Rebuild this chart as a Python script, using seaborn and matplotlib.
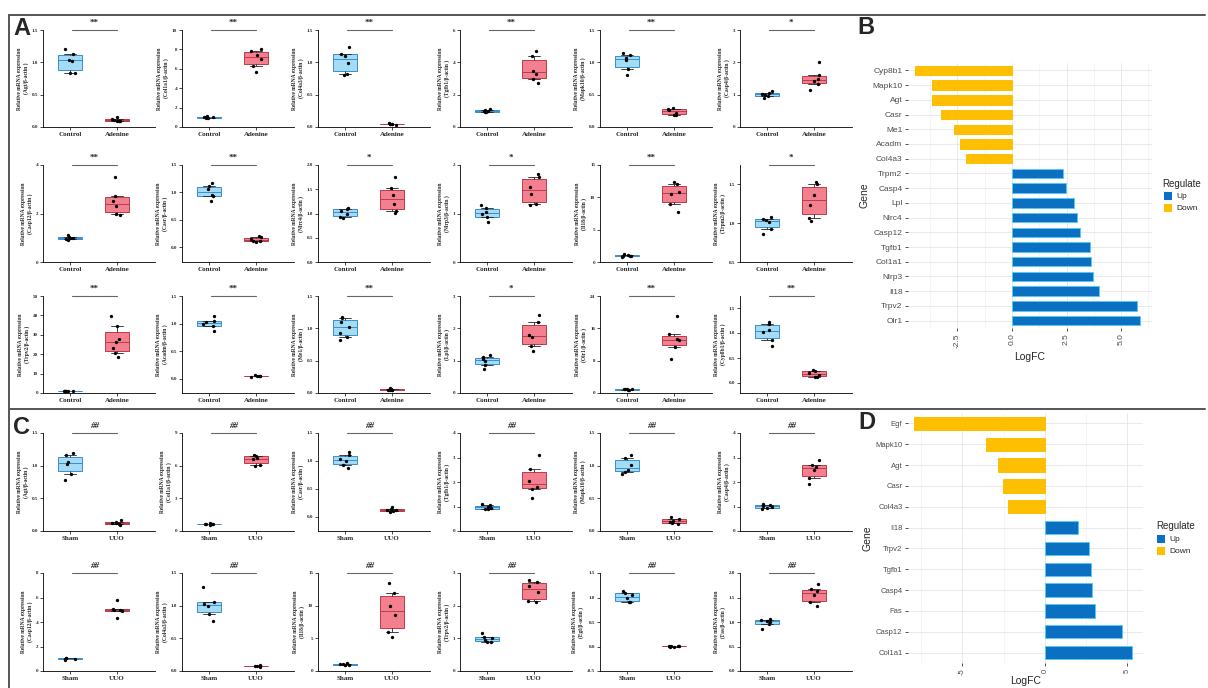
import numpy as np
import pandas as pd
import matplotlib
matplotlib.use("Agg")
import matplotlib.pyplot as plt
import matplotlib.transforms as mtransforms
from matplotlib.lines import Line2D
from matplotlib.ticker import FixedLocator
import seaborn as sns

# ---------------- Panel A: adenine model (Control vs Adenine) ----------------
a_agt_ctrl = [1.20, 1.13, 1.04, 1.02, 0.84, 0.83]
a_agt_aden = [0.15, 0.12, 0.11, 0.10, 0.10, 0.09]
a_col1a1_ctrl = [1.12, 1.06, 1.02, 0.98, 0.95, 0.90]
a_col1a1_aden = [8.00, 7.80, 7.40, 7.00, 6.30, 5.70]
a_col4a3_ctrl = [1.23, 1.13, 1.10, 0.99, 0.82, 0.81]
a_col4a3_aden = [0.06, 0.05, 0.05, 0.04, 0.04, 0.03]
a_tgfb1_ctrl = [1.10, 1.05, 1.00, 0.98, 0.93, 0.90]
a_tgfb1_aden = [4.70, 4.40, 3.45, 3.30, 2.95, 2.70]
a_mapk10_ctrl = [1.14, 1.12, 1.06, 1.03, 0.90, 0.80]
a_mapk10_aden = [0.29, 0.28, 0.26, 0.22, 0.19, 0.19]
a_casp4_ctrl = [1.10, 1.06, 1.03, 1.00, 0.95, 0.90]
a_casp4_aden = [2.02, 1.60, 1.48, 1.42, 1.34, 1.15]

a_casp12_ctrl = [1.10, 1.05, 1.00, 0.98, 0.95, 0.92]
a_casp12_aden = [3.50, 2.72, 2.50, 2.30, 2.00, 1.95]
a_casr_ctrl = [1.17, 1.12, 1.07, 0.96, 0.93, 0.85]
a_casr_aden = [0.20, 0.18, 0.15, 0.12, 0.11, 0.10]
a_nlrc4_ctrl = [1.12, 1.10, 1.05, 1.00, 0.92, 0.90]
a_nlrc4_aden = [1.75, 1.52, 1.38, 1.20, 1.05, 1.02]
a_nlrp3_ctrl = [1.17, 1.12, 1.03, 0.98, 0.92, 0.82]
a_nlrp3_aden = [1.82, 1.76, 1.55, 1.40, 1.19, 1.17]
a_il18_ctrl = [1.20, 1.10, 1.00, 0.95, 0.90, 0.80]
a_il18_aden = [12.3, 12.0, 10.8, 10.5, 8.9, 7.7]
a_trpm2_ctrl = [1.08, 1.06, 1.04, 1.02, 0.92, 0.86]
a_trpm2_aden = [1.53, 1.50, 1.36, 1.24, 1.07, 1.03]

a_trpv2_ctrl = [1.20, 1.10, 1.00, 0.95, 0.90, 0.85]
a_trpv2_aden = [39.5, 34.5, 28.0, 26.5, 23.0, 20.5, 18.5]
a_acadm_ctrl = [1.14, 1.05, 1.03, 1.00, 0.95, 0.87]
a_acadm_aden = [0.06, 0.05, 0.05, 0.04, 0.04, 0.03]
a_me1_ctrl = [1.17, 1.16, 1.10, 1.02, 0.93, 0.87, 0.82]
a_me1_aden = [0.07, 0.06, 0.05, 0.05, 0.04, 0.04]
a_lpl_ctrl = [1.16, 1.10, 1.06, 1.00, 0.88, 0.75]
a_lpl_aden = [2.40, 2.20, 1.78, 1.74, 1.45, 1.30]
a_olr1_ctrl = [1.10, 1.00, 0.95, 0.90, 0.85, 0.80]
a_olr1_aden = [19.0, 14.5, 13.3, 13.0, 11.5, 8.5]
a_cyp8b1_ctrl = [1.22, 1.18, 1.07, 1.03, 0.86, 0.75]
a_cyp8b1_aden = [0.27, 0.24, 0.21, 0.16, 0.13, 0.12]

# ---------------- Panel C: UUO model (Sham vs UUO) ----------------
c_agt_sham = [1.19, 1.16, 1.05, 1.03, 0.88, 0.78]
c_agt_uuo = [0.17, 0.14, 0.13, 0.12, 0.10, 0.09]
c_col1a1_sham = [0.72, 0.68, 0.65, 0.62, 0.60, 0.57]
c_col1a1_uuo = [7.00, 6.90, 6.70, 6.60, 6.10, 6.00]
c_casr_sham = [1.15, 1.10, 1.03, 1.00, 0.93, 0.88]
c_casr_uuo = [0.17, 0.14, 0.12, 0.11, 0.10, 0.09]
c_tgfb1_sham = [1.12, 1.05, 1.00, 0.95, 0.90, 0.88]
c_tgfb1_uuo = [3.10, 2.55, 2.05, 1.78, 1.72, 1.33]
c_mapk10_sham = [1.17, 1.12, 1.01, 0.93, 0.91, 0.88]
c_mapk10_uuo = [0.21, 0.19, 0.16, 0.14, 0.12, 0.11]
c_casp4_sham = [1.10, 1.06, 1.03, 0.98, 0.93, 0.90]
c_casp4_uuo = [2.90, 2.70, 2.62, 2.50, 2.15, 1.90]

c_casp12_sham = [1.10, 1.05, 1.00, 0.98, 0.95, 0.90]
c_casp12_uuo = [5.80, 5.05, 5.00, 4.95, 4.90, 4.30]
c_col4a3_sham = [1.28, 1.06, 1.02, 1.00, 0.88, 0.77]
c_col4a3_uuo = [0.09, 0.08, 0.08, 0.07, 0.07, 0.06]
c_il18_sham = [1.20, 1.10, 1.00, 0.95, 0.90, 0.85]
c_il18_uuo = [13.5, 12.0, 10.0, 8.5, 6.0, 5.2]
c_trpv2_sham = [1.15, 1.05, 1.00, 0.95, 0.90, 0.88]
c_trpv2_uuo = [2.80, 2.72, 2.60, 2.42, 2.15, 2.10]
c_egf_sham = [1.13, 1.10, 1.05, 0.98, 0.91, 0.90]
c_egf_uuo = [0.010, 0.010, 0.005, 0.000, 0.000, 0.005]
c_fas_sham = [1.07, 1.05, 1.03, 1.00, 0.95, 0.85]
c_fas_uuo = [1.78, 1.67, 1.63, 1.55, 1.40, 1.33]

A_GROUPS = ["Control", "Adenine"]
C_GROUPS = ["Sham", "UUO"]

# gene, group 1, group 2, significance mark, y ticks, y limits
A_ROWS = [
    [("Agt", a_agt_ctrl, a_agt_aden, "**", [0, 0.5, 1.0, 1.5], (0, 1.5)),
     ("Col1a1", a_col1a1_ctrl, a_col1a1_aden, "**", [0, 2, 4, 6, 8, 10], (0, 10)),
     ("Col4a3", a_col4a3_ctrl, a_col4a3_aden, "**", [0, 0.5, 1.0, 1.5], (0, 1.5)),
     ("Tgfb1", a_tgfb1_ctrl, a_tgfb1_aden, "**", [0, 2, 4, 6], (0, 6)),
     ("Mapk10", a_mapk10_ctrl, a_mapk10_aden, "**", [0, 0.5, 1.0, 1.5], (0, 1.5)),
     ("Casp4", a_casp4_ctrl, a_casp4_aden, "*", [0, 1, 2, 3], (0, 3))],
    [("Casp12", a_casp12_ctrl, a_casp12_aden, "**", [0, 2, 4], (0, 4)),
     ("Casr", a_casr_ctrl, a_casr_aden, "**", [0, 0.5, 1.0, 1.5], (-0.27, 1.5)),
     ("Nlrc4", a_nlrc4_ctrl, a_nlrc4_aden, "*", [0, 0.5, 1.0, 1.5, 2.0], (0, 2.0)),
     ("Nlrp3", a_nlrp3_ctrl, a_nlrp3_aden, "*", [0, 1, 2], (0, 2)),
     ("Il18", a_il18_ctrl, a_il18_aden, "**", [0, 5, 10, 15], (0, 15)),
     ("Trpm2", a_trpm2_ctrl, a_trpm2_aden, "*", [0.5, 1.0, 1.5], (0.5, 1.75))],
    [("Trpv2", a_trpv2_ctrl, a_trpv2_aden, "**", [0, 10, 20, 30, 40, 50], (0, 50)),
     ("Acadm", a_acadm_ctrl, a_acadm_aden, "**", [0, 0.5, 1.0, 1.5], (-0.26, 1.5)),
     ("Me1", a_me1_ctrl, a_me1_aden, "**", [0, 0.5, 1.0, 1.5], (0, 1.5)),
     ("Lpl", a_lpl_ctrl, a_lpl_aden, "*", [0, 1, 2, 3], (0, 3)),
     ("Olr1", a_olr1_ctrl, a_olr1_aden, "**", [0, 8, 16, 24], (0, 24)),
     ("Cyp8b1", a_cyp8b1_ctrl, a_cyp8b1_aden, "**", [0, 0.5, 1.0, 1.5], (-0.2, 1.74))],
]
C_ROWS = [
    [("Agt", c_agt_sham, c_agt_uuo, "##", [0, 0.5, 1.0, 1.5], (0, 1.5)),
     ("Col1a1", c_col1a1_sham, c_col1a1_uuo, "##", [0, 3, 6, 9], (0, 9)),
     ("Casr", c_casr_sham, c_casr_uuo, "##", [0, 0.5, 1.0, 1.5], (-0.26, 1.5)),
     ("Tgfb1", c_tgfb1_sham, c_tgfb1_uuo, "##", [0, 1, 2, 3, 4], (0, 4)),
     ("Mapk10", c_mapk10_sham, c_mapk10_uuo, "##", [0, 0.5, 1.0, 1.5], (0, 1.5)),
     ("Casp4", c_casp4_sham, c_casp4_uuo, "##", [0, 1, 2, 3, 4], (0, 4))],
    [("Casp12", c_casp12_sham, c_casp12_uuo, "##", [0, 2, 4, 6, 8], (0, 8)),
     ("Col4a3", c_col4a3_sham, c_col4a3_uuo, "##", [0, 0.5, 1.0, 1.5], (0, 1.5)),
     ("Il18", c_il18_sham, c_il18_uuo, "##", [0, 5, 10, 15], (0, 15)),
     ("Trpv2", c_trpv2_sham, c_trpv2_uuo, "##", [0, 1, 2, 3], (0, 3)),
     ("Egf", c_egf_sham, c_egf_uuo, "##", [-0.5, 0, 0.5, 1.0, 1.5], (-0.5, 1.5)),
     ("Fas", c_fas_sham, c_fas_uuo, "##", [0, 0.5, 1.0, 1.5, 2.0], (0, 2.0))],
]

# ---------------- Panels B and D: logFC bar charts ----------------
b_genes = ["Cyp8b1", "Mapk10", "Agt", "Casr", "Me1", "Acadm", "Col4a3",
           "Trpm2", "Casp4", "Lpl", "Nlrc4", "Casp12", "Tgfb1", "Col1a1",
           "Nlrp3", "Il18", "Trpv2", "Olr1"]
b_logfc = [-4.45, -3.68, -3.67, -3.27, -2.66, -2.39, -2.12,
           2.35, 2.48, 2.86, 2.97, 3.12, 3.58, 3.61, 3.73, 3.99, 5.72, 5.87]
b_regulate = ["Down"] * 7 + ["Up"] * 11

d_genes = ["Egf", "Mapk10", "Agt", "Casr", "Col4a3", "Il18", "Trpv2",
           "Tgfb1", "Casp4", "Fas", "Casp12", "Col1a1"]
d_logfc = [-7.94, -3.58, -2.83, -2.53, -2.22, 1.98, 2.69, 2.79, 2.87,
           3.05, 4.69, 5.29]
d_regulate = ["Down"] * 5 + ["Up"] * 7

# ---------------- styling ----------------
CTRL_FILL, CTRL_EDGE = "#a4dcf6", "#3a8fcc"
TREAT_FILL, TREAT_EDGE = "#f4808f", "#b83c4c"
UP_COL, DOWN_COL = "#0b6fc2", "#fdbf00"
SERIF = ["Liberation Serif", "DejaVu Serif"]
SANS = ["Liberation Sans", "DejaVu Sans"]

sns.set_theme(style="white")
plt.rcParams["font.family"] = SERIF
np.random.seed(7)

W, H = 1208, 688
fig = plt.figure(figsize=(W / 100, H / 100), dpi=100)
fig.patch.set_facecolor("white")


def px_axes(left, top, width, height):
    return fig.add_axes([left / W, 1 - (top + height) / H, width / W, height / H])


def tick_text(ticks):
    if all(float(t).is_integer() for t in ticks):
        return [f"{int(t)}" for t in ticks]
    return [f"{t:.1f}" for t in ticks]


def expression_box(ax, gene, g1, g2, groups, sig, ticks, ylim):
    df = pd.DataFrame({
        "group": [groups[0]] * len(g1) + [groups[1]] * len(g2),
        "value": list(g1) + list(g2),
    })
    for lab, fill, edge in [(groups[0], CTRL_FILL, CTRL_EDGE),
                            (groups[1], TREAT_FILL, TREAT_EDGE)]:
        sub = df[df["group"] == lab]
        sns.boxplot(data=sub, x="group", y="value", order=groups, color=fill,
                    linecolor=edge, saturation=1, width=0.5, whis=(5, 95),
                    showfliers=False, linewidth=0.7,
                    whiskerprops={"color": "#222222", "linewidth": 0.6},
                    capprops={"color": "#222222", "linewidth": 0.6},
                    ax=ax)
    sns.stripplot(data=df, x="group", y="value", order=groups, color="black",
                  size=2.4, jitter=0.12, ax=ax, zorder=5)
    ax.set_xlim(-0.57, 1.81)
    ax.set_ylim(*ylim)
    ax.yaxis.set_major_locator(FixedLocator(ticks))
    ax.set_yticklabels(tick_text(ticks), fontsize=3.6, fontweight="bold")
    ax.set_xticks([0, 1])
    ax.set_xticklabels(groups, fontsize=5, fontweight="bold")
    ax.set_xlabel("")
    ax.set_ylabel(f"Relative mRNA expression\n({gene}/β-actin )",
                  fontsize=4, fontweight="bold", labelpad=2, linespacing=1.3)
    for s in ["top", "right"]:
        ax.spines[s].set_visible(False)
    for s in ["left", "bottom"]:
        ax.spines[s].set_color("black")
        ax.spines[s].set_linewidth(0.6)
    ax.tick_params(axis="both", length=2, width=0.5, pad=1.5, color="black",
                   left=True, bottom=True)
    trans = mtransforms.blended_transform_factory(ax.transData, ax.transAxes)
    ax.plot([0.05, 1.0], [1.0, 1.0], transform=trans, color="#666666",
            lw=0.8, clip_on=False)
    ax.text(0.52, 1.035, sig, transform=trans, ha="center", va="bottom",
            fontsize=6.5, fontweight="bold",
            fontstyle="italic" if sig.startswith("#") else "normal")


COL_LEFTS = [43, 182, 318, 460, 600, 740]
BOX_W = 112
for r, row in enumerate(A_ROWS):
    top = [30, 165, 296][r]
    for c, (gene, g1, g2, sig, ticks, ylim) in enumerate(row):
        ax = px_axes(COL_LEFTS[c], top, BOX_W, 97)
        expression_box(ax, gene, g1, g2, A_GROUPS, sig, ticks, ylim)

for r, row in enumerate(C_ROWS):
    top = [433, 573][r]
    for c, (gene, g1, g2, sig, ticks, ylim) in enumerate(row):
        ax = px_axes(COL_LEFTS[c], top, BOX_W, 98)
        expression_box(ax, gene, g1, g2, C_GROUPS, sig, ticks, ylim)


def logfc_bars(ax, genes, logfc, regulate, xlim, major, minor, fs, legend_x,
               xlabel_pad):
    df = pd.DataFrame({"Gene": genes, "LogFC": logfc, "Regulate": regulate})
    ax.set_axisbelow(True)
    sns.barplot(data=df, x="LogFC", y="Gene", hue="Regulate", order=genes,
                hue_order=["Up", "Down"], palette={"Up": UP_COL, "Down": DOWN_COL},
                dodge=False, width=0.64, saturation=1, orient="h", ax=ax,
                linewidth=0.7)
    for p in ax.patches:
        fc = p.get_facecolor()
        if fc[2] > 0.5:
            p.set_edgecolor("#56c8f5")
        else:
            p.set_edgecolor(DOWN_COL)
    ax.set_xlim(*xlim)
    ax.set_xticks(major)
    ax.set_xticks(minor, minor=True)
    ax.set_xticklabels([str(m) for m in major] if fs < 6 else [f"{m:.1f}" for m in major],
                       rotation=90, fontsize=fs, color="#4d4d4d", family=SANS)
    ax.set_yticks(range(len(genes)))
    ax.set_yticklabels(genes, fontsize=fs, color="#4d4d4d", family=SANS)
    ax.grid(True, which="major", color="#e6e6e6", lw=0.6)
    ax.grid(True, which="minor", axis="x", color="#f2f2f2", lw=0.5)
    for s in ax.spines.values():
        s.set_visible(False)
    ax.tick_params(axis="y", which="major", length=2.5, width=0.6, color="#333333",
                   left=True, pad=1.5)
    ax.tick_params(axis="x", which="major", length=2.5, width=0.6, color="#333333",
                   bottom=True, pad=1.5)
    ax.tick_params(axis="x", which="minor", length=0)
    ax.set_xlabel("LogFC", fontsize=7.5, family=SANS, labelpad=xlabel_pad)
    ax.set_ylabel("Gene", fontsize=7.5, family=SANS, labelpad=2)
    sns.move_legend(ax, "center left", bbox_to_anchor=(legend_x, 0.5),
                    frameon=False, title="Regulate", fontsize=6,
                    title_fontsize=7, handlelength=1.1, handleheight=1.3,
                    labelspacing=0.3, handletextpad=0.5, borderaxespad=0.3)
    leg = ax.get_legend()
    leg.get_title().set_family(SANS)
    leg._legend_box.align = "left"
    for t in leg.get_texts():
        t.set_family(SANS)


axb = px_axes(908, 63, 244, 265)
logfc_bars(axb, b_genes, b_logfc, b_regulate, (-4.77, 6.42),
           [-2.5, 0.0, 2.5, 5.0], [-3.75, -1.25, 1.25, 3.75, 6.25], 6, 1.02, 3)

axd = px_axes(908, 413, 235, 250)
logfc_bars(axd, d_genes, d_logfc, d_regulate, (-8.3, 5.94),
           [-5, 0, 5], [-7.5, -2.5, 2.5], 5.5, 1.03, 0.5)

# panel frame
frame = dict(color="#555555", lw=1.4)
fig.add_artist(Line2D([9 / W, 1205 / W], [1 - 15 / H, 1 - 15 / H], **frame))
fig.add_artist(Line2D([9 / W, 1205 / W], [1 - 409 / H, 1 - 409 / H], **frame))
fig.add_artist(Line2D([9 / W, 9 / W], [0, 1 - 15 / H], **frame))

# panel letters
for letter, x, y in [("A", 13, 17), ("B", 857, 16), ("C", 13, 416), ("D", 858, 411)]:
    fig.text(x / W, 1 - y / H, letter, fontsize=17, fontweight="bold",
             family=SANS, va="top", ha="left")

fig.savefig("out.png", dpi=100, facecolor="white")
